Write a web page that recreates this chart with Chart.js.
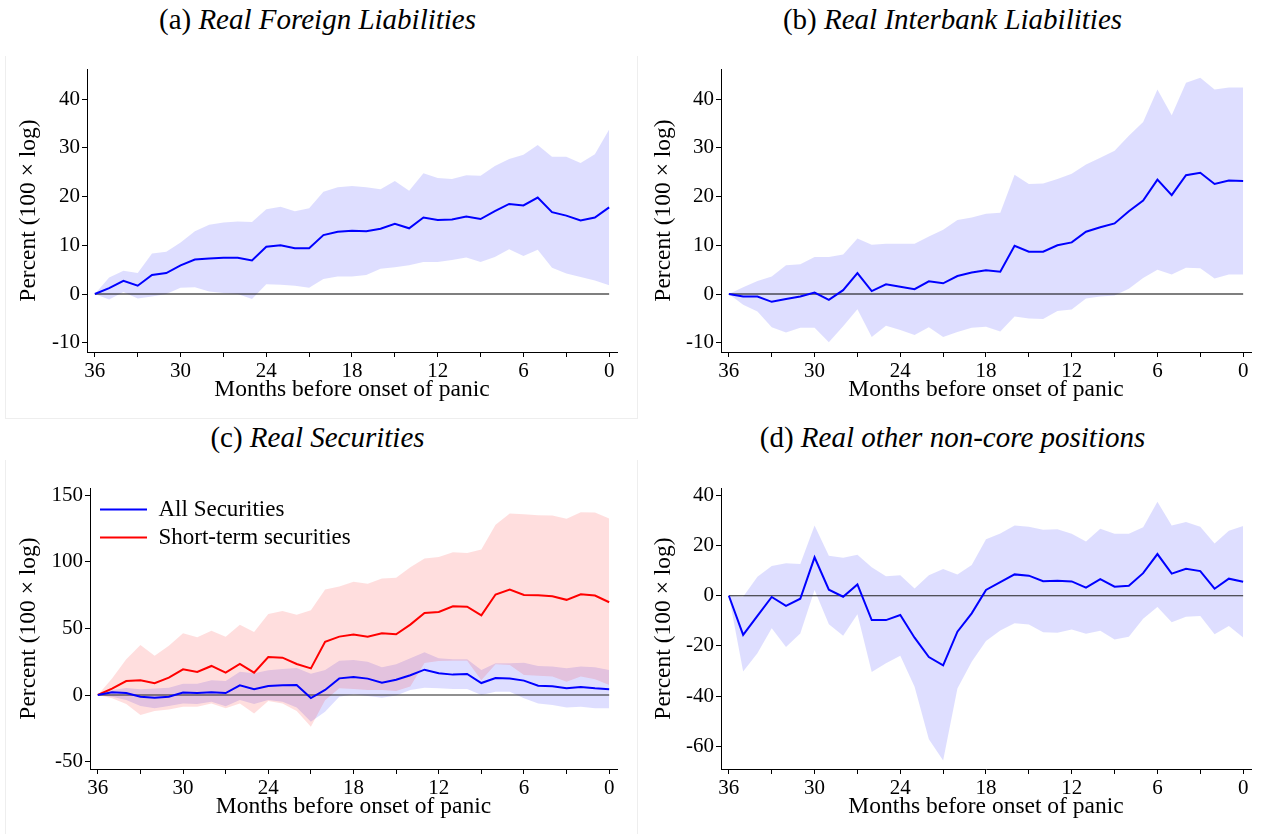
<!DOCTYPE html>
<html>
<head>
<meta charset="utf-8">
<script src="https://cdn.jsdelivr.net/npm/chart.js@4.4.1/dist/chart.umd.min.js"></script>
<style>
  html, body { margin: 0; padding: 0; background: #fff; }
  body { width: 1270px; height: 834px; position: relative; overflow: hidden; font-family: 'Liberation Serif', serif; }
  canvas { position: absolute; }
  .title { position: absolute; width: 635px; text-align: center; font-size: 29px; line-height: 32px; color: #000; white-space: nowrap; }
  .title i { font-style: italic; }
  .frame { position: absolute; border: 0 solid #eeeeee; }
</style>
</head>
<body>
<div class="frame" style="left:5px;top:56px;width:631px;height:362px;border-left-width:1px;border-right-width:1px;border-bottom-width:1px;"></div>
<div class="frame" style="left:5px;top:460px;width:631px;height:374px;border-left-width:1px;border-right-width:1px;"></div>

<div class="title" style="left:0;top:3px">(a) <i>Real Foreign Liabilities</i></div>
<div class="title" style="left:635px;top:3px">(b) <i>Real Interbank Liabilities</i></div>
<div class="title" style="left:0;top:421px">(c) <i>Real Securities</i></div>
<div class="title" style="left:635px;top:421px">(d) <i>Real other non-core positions</i></div>

<canvas id="panelA" width="635" height="354" style="left:0;top:50px"></canvas>
<canvas id="panelB" width="635" height="354" style="left:635px;top:50px"></canvas>
<canvas id="panelC" width="635" height="353" style="left:0;top:468px"></canvas>
<canvas id="panelD" width="635" height="353" style="left:635px;top:468px"></canvas>

<script>
// Months before the onset of the panic, left to right
const months = [36, 35, 34, 33, 32, 31, 30, 29, 28, 27, 26, 25, 24, 23, 22, 21, 20, 19, 18,
                17, 16, 15, 14, 13, 12, 11, 10, 9, 8, 7, 6, 5, 4, 3, 2, 1, 0];
const monthTicks = [36, 33, 30, 27, 24, 21, 18, 15, 12, 9, 6, 3, 0];

const yTicksA = [-10, 0, 10, 20, 30, 40];
const yTicksB = [-10, 0, 10, 20, 30, 40];
const yTicksC = [-50, 0, 50, 100, 150];
const yTicksD = [-60, -40, -20, 0, 20, 40];

// (a) Real foreign liabilities
const foreignMean  = [0, 1.2, 2.7, 1.7, 3.9, 4.3, 5.9, 7.1, 7.3, 7.45, 7.45, 6.9, 9.7, 10.0, 9.4, 9.4, 12.1, 12.8, 13.0,
                      12.9, 13.4, 14.4, 13.5, 15.7, 15.2, 15.3, 15.9, 15.4, 17.0, 18.5, 18.2, 19.8, 16.8, 16.1, 15.1, 15.7, 17.8];
const foreignUpper = [0, 3.4, 4.8, 4.3, 8.3, 8.7, 10.6, 12.9, 14.2, 14.7, 14.9, 14.8, 17.4, 17.9, 17.0, 17.6, 21.0, 21.9, 22.2,
                      21.9, 21.5, 23.2, 21.2, 24.8, 23.8, 23.6, 24.4, 24.3, 26.3, 27.7, 28.6, 30.6, 28.2, 28.2, 26.9, 28.7, 33.8];
const foreignLower = [0, -1.1, 0.4, -0.9, -0.5, 0, 1.3, 1.4, 0.5, 0.2, 0, -1.0, 2.0, 1.9, 1.7, 1.3, 3.1, 3.6, 3.6,
                      3.9, 5.2, 5.5, 5.9, 6.6, 6.6, 7.0, 7.5, 6.6, 7.6, 9.2, 7.8, 9.1, 5.4, 4.2, 3.5, 2.8, 1.8];

// (b) Real interbank liabilities
const interbankMean  = [0, -0.5, -0.5, -1.6, -1.0, -0.5, 0.3, -1.2, 0.8, 4.3, 0.6, 2.0, 1.5, 1.0, 2.6, 2.2, 3.7, 4.4, 4.9,
                        4.6, 9.9, 8.7, 8.7, 10.0, 10.6, 12.8, 13.7, 14.5, 17.0, 19.2, 23.5, 20.3, 24.4, 24.9, 22.6, 23.3, 23.2];
const interbankUpper = [0, 1.4, 2.7, 3.6, 5.9, 6.1, 7.6, 7.6, 8.1, 11.4, 10.1, 10.3, 10.3, 10.3, 11.8, 13.2, 15.2, 15.7, 16.5,
                        16.7, 24.5, 22.6, 22.7, 23.6, 24.7, 26.6, 28.0, 29.4, 32.5, 35.3, 42.0, 36.7, 43.4, 44.4, 42.0, 42.4, 42.4];
const interbankLower = [0, -2.2, -3.6, -6.8, -7.9, -6.9, -6.9, -9.9, -6.6, -3.1, -8.8, -6.5, -7.4, -8.4, -6.8, -8.8, -7.8, -6.9, -6.7,
                        -7.7, -4.6, -5.0, -5.1, -3.5, -3.2, -0.9, -0.5, -0.3, 1.1, 3.3, 5.0, 4.0, 5.4, 5.3, 3.2, 4.0, 4.0];

// (c) Real securities: all securities and short-term securities
const allSecMean  = [0, 2, 1.5, -1.3, -2, -1.3, 1.8, 1.5, 2, 1.5, 7.3, 4.3, 6.8, 7.3, 7.5, -2.3, 3.8, 12.5, 13.5,
                     12.3, 9.3, 11.5, 14.8, 19, 16.3, 15.3, 15.8, 9, 12.8, 12.3, 10.8, 7, 6.5, 5, 6, 5, 4.3];
const allSecUpper = [0, 3.8, 5.3, 4.3, 4.8, 5.5, 8.5, 8.5, 11, 10.5, 17.5, 16.3, 18.5, 19.5, 20.3, 16, 18.8, 25.8, 26.3,
                     25, 20.8, 23, 27.5, 32, 27.5, 26.8, 26.8, 18.8, 23.8, 23.8, 24.3, 21.8, 21.3, 20, 21.3, 20.8, 18.8];
const allSecLower = [0, -1.3, -3.8, -8.3, -10, -8.3, -6.3, -6.8, -5, -8.5, -3.8, -6.8, -3.8, -5, -9.3, -20, -12.5, -1.3, 0.5,
                     -0.8, -2, -0.3, 3.8, 5.5, 5, 4.5, 4.5, 0, 2.5, 2.5, -2.5, -6.3, -7.5, -9.3, -8.8, -10, -10];
const shortSecMean  = [0, 4.8, 10.5, 11, 8.8, 13, 19.3, 17.3, 21.8, 16.8, 23.3, 16.8, 28.5, 28, 23.3, 20, 40, 43.8, 45.3,
                       43.8, 46.3, 45.6, 52.8, 61.6, 62.3, 66.6, 66.3, 59.8, 75.4, 79.1, 75.1, 74.9, 74.1, 71.4, 75.6, 74.6, 69.6];
const shortSecUpper = [0, 12.3, 26.8, 37.5, 29.5, 37, 46.3, 43.3, 48.3, 43.8, 52.8, 47.3, 60.8, 63.1, 60.3, 63.6, 79.1, 81.4, 84.9,
                       83.4, 87.4, 87.9, 95.8, 102.4, 103.6, 107.1, 106.6, 109.1, 127.7, 136.2, 135.7, 134.9, 134.7, 132.2, 137.2, 136.9, 132.4];
const shortSecLower = [0, -2.5, -6.8, -15, -12, -10.8, -8.8, -8.8, -6.3, -10, -6.3, -13.8, -4.5, -6.3, -12, -23.8, -4, 5, 4.5,
                       3.8, 3.8, 3, 6.3, 24, 25.5, 25.8, 25.8, 11, 23, 22.5, 15, 14.5, 13.8, 10, 13.8, 11.8, 7.5];
const securityNames = ['All Securities', 'Short-term securities'];

// (d) Real other non-core positions
const otherMean  = [0, -15.6, -8, -0.5, -4, -1.2, 15.3, 2.4, -0.4, 4.5, -9.7, -9.7, -7.7, -16.7, -24.4, -27.7, -14.3, -7, 2.3,
                    5.4, 8.5, 8, 5.8, 6, 5.7, 3.2, 6.6, 3.6, 4, 9, 16.6, 8.8, 10.7, 9.8, 2.8, 6.8, 5.6];
const otherUpper = [0, -0.4, 7.6, 11.8, 12.9, 12.6, 28, 15.9, 15.1, 16.3, 11.3, 7.8, 8.2, 2.9, 8.2, 10.6, 8.5, 12.2, 22.5,
                    24.8, 28, 27.5, 26.3, 26.5, 24.7, 21.6, 26.7, 24.7, 24.7, 27.3, 37.4, 28, 29.4, 27.5, 20.8, 25.9, 27.8];
const otherLower = [0, -30.2, -22.9, -13, -20.4, -15, 2.3, -11.4, -15.9, -7.4, -30.4, -26.9, -23.9, -36.2, -57.2, -65.6, -36.9, -26.3, -18,
                    -13.8, -11, -11.5, -14.5, -14.7, -13.4, -15.1, -13.9, -17.4, -16.3, -9.2, -4.5, -10.6, -8.4, -8.1, -15.3, -12.1, -16.6];

const FONT = "'Liberation Serif', 'Times New Roman', serif";
const BLUE = '#0000ff';
const RED = '#ff0000';
const BLUE_BAND = 'rgba(0,0,255,0.13)';
const RED_BAND = 'rgba(255,0,0,0.13)';

function pts(values) {
  return values.map((v, i) => ({ x: months[i], y: v }));
}

function meanLine(values, color, order) {
  return { data: pts(values), borderColor: color, borderWidth: 2, pointRadius: 0, fill: false, order: order };
}

function zeroLine(color) {
  return { data: pts(months.map(() => 0)), borderColor: color, borderWidth: 1.1, pointRadius: 0, fill: false, order: 2 };
}

// Upper edge fills down to the following (lower-edge) dataset
function band(upper, lower, color, order) {
  return [
    { data: pts(upper), borderWidth: 0, borderColor: 'rgba(0,0,0,0)', backgroundColor: color, pointRadius: 0, fill: '+1', order: order },
    { data: pts(lower), borderWidth: 0, borderColor: 'rgba(0,0,0,0)', pointRadius: 0, fill: false, order: order }
  ];
}

// Nudges the in-plot legend to its place below the top-left corner of the plot area
const legendNudge = {
  id: 'legendNudge',
  afterLayout(chart) {
    const lg = chart.legend;
    if (!lg || !lg.options.display) return;
    lg.left += 5; lg.right += 5;
    lg.top += 25; lg.bottom += 25;
  }
};

function makeChart(id, datasets, yRange, yTicks, yAxisWidth, padding, legend) {
  return new Chart(document.getElementById(id), {
    type: 'line',
    data: { datasets: datasets },
    plugins: legend ? [legendNudge] : [],
    options: {
      responsive: false,
      animation: false,
      devicePixelRatio: 1,
      layout: { padding: padding },
      plugins: { legend: legend || { display: false }, tooltip: { enabled: false } },
      elements: { line: { tension: 0 }, point: { radius: 0 } },
      scales: {
        x: {
          type: 'linear',
          reverse: true,
          min: -0.55,
          max: 36.55,
          afterBuildTicks: s => { s.ticks = monthTicks.map(v => ({ value: v })); },
          afterFit: s => { s.height = 52; },
          grid: { display: true, drawOnChartArea: false, drawTicks: true, tickLength: 5, color: '#000', lineWidth: 1 },
          border: { display: true, color: '#000', width: 1 },
          ticks: {
            autoSkip: false, maxRotation: 0, minRotation: 0, padding: 2, color: '#000',
            font: { family: FONT, size: 21 },
            callback: v => (v % 6 === 0 ? String(v) : '')
          },
          title: { display: true, text: 'Months before onset of panic', color: '#000', font: { family: FONT, size: 23.5 }, padding: 0 }
        },
        y: {
          type: 'linear',
          min: yRange[0],
          max: yRange[1],
          afterBuildTicks: s => { s.ticks = yTicks.map(v => ({ value: v })); },
          afterFit: s => { s.width = yAxisWidth; },
          grid: { display: true, drawOnChartArea: false, drawTicks: true, tickLength: 5, color: '#000', lineWidth: 1 },
          border: { display: true, color: '#000', width: 1 },
          ticks: { padding: 2, color: '#000', font: { family: FONT, size: 21 }, callback: v => String(v) },
          title: { display: true, text: 'Percent (100 \u00d7 log)', color: '#000', font: { family: FONT, size: 23.5 }, padding: 0 }
        }
      }
    }
  });
}

makeChart('panelA',
  [meanLine(foreignMean, BLUE, 0), zeroLine('#000')].concat(band(foreignUpper, foreignLower, BLUE_BAND, 3)),
  [-11.9, 46.2], yTicksA, 72.2, { left: 14.8, top: 19, right: 18, bottom: 0 });

makeChart('panelB',
  [meanLine(interbankMean, BLUE, 0), zeroLine('#000')].concat(band(interbankUpper, interbankLower, BLUE_BAND, 3)),
  [-11.9, 46.2], yTicksB, 71.2, { left: 14.8, top: 19, right: 19, bottom: 0 });

const securityColors = [BLUE, RED];
makeChart('panelC',
  [meanLine(allSecMean, BLUE, 0), meanLine(shortSecMean, RED, 1), zeroLine('#222')]
    .concat(band(shortSecUpper, shortSecLower, RED_BAND, 3))
    .concat(band(allSecUpper, allSecLower, BLUE_BAND, 4)),
  [-55.5, 155.3], yTicksC, 75.2, { left: 14.8, top: 20, right: 18, bottom: 0 },
  {
    display: true,
    position: 'chartArea',
    align: 'start',
    labels: {
      boxWidth: 47, boxHeight: 2, padding: 5, color: '#000',
      font: { family: FONT, size: 23 },
      generateLabels: () => securityNames.map((name, i) => ({
        text: name, fillStyle: securityColors[i], strokeStyle: securityColors[i],
        lineWidth: 0, hidden: false, datasetIndex: i, fontColor: '#000'
      }))
    }
  });

makeChart('panelD',
  [meanLine(otherMean, BLUE, 0), zeroLine('#222')].concat(band(otherUpper, otherLower, BLUE_BAND, 3)),
  [-69, 42.9], yTicksD, 71.2, { left: 14.8, top: 20, right: 19, bottom: 0 });
</script>
</body>
</html>
